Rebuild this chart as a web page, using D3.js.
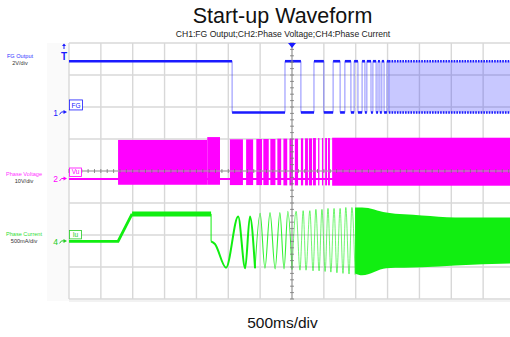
<!DOCTYPE html>
<html><head><meta charset="utf-8">
<script src="https://cdn.jsdelivr.net/npm/d3@7/dist/d3.min.js"></script>
<style>html,body{margin:0;padding:0;background:#fff;}svg{display:block;font-family:"Liberation Sans",Arial,sans-serif;}</style>
</head><body>
<script>
// ---------- text ----------
const titleText = "Start-up Waveform";
const subtitleText = "CH1:FG Output;CH2:Phase Voltage;CH4:Phase Current";
const timebaseText = "500ms/div";
const channelNames = ["FG Output", "Phase Voltage", "Phase Current"];
const channelScales = ["2V/div", "10V/div", "500mA/div"];
const channelNumbers = ["1", "2", "4"];
const channelTags = ["FG", "Vu", "Iu"];
const perDiv = [2, 10, 500];            // V, V, mA per division

// ---------- time axis (ms, trigger at 0) ----------
const timeDomain = [-3500, 3500];
const msPerDiv = 500;

// ---------- CH1 FG output (V) ----------
const fgHigh = 3.2, fgLow = 0;
const fgEdgesMs = [-940, -110, 140, 345, 500, 645, 755, 830, 925, 975, 1035, 1100,
                   1145, 1175, 1240, 1270, 1320, 1350, 1380, 1410, 1445, 1490];
const fgDenseStartMs = 1520;

// ---------- CH2 phase voltage bursts (V) ----------
const pvBurstStart = [-2730, -1330, -975, -720, -560, -450, -340, -230, -135, -40, 45, 140, 205, 265, 330, 410, 470, 520, 565, 630];
const pvBurstEnd   = [-1330, -1130, -770, -610, -470, -365, -260, -170, -75, 15, 95, 175, 250, 315, 375, 430, 490, 550, 595, 3500];
const pvBurstTop   = [12.2, 13.1, 12.4, 12.4, 12.5, 12.5, 12.5, 12.6, 12.6, 12.6, 12.6, 12.7, 12.7, 12.7, 12.8, 12.8, 12.8, 12.8, 12.8, 12.9];
const pvBurstBottom= [-1.8, -1.8, -1.9, -1.9, -1.9, -1.9, -1.9, -1.9, -2.0, -2.0, -2.0, -2.0, -2.0, -2.0, -2.0, -2.0, -2.0, -2.0, -2.0, -2.1];

// ---------- CH4 phase current (mA) ----------
const cuStepTimes  = [-3500, -2730, -2510, -1270];
const cuStepValues = [0, 0, 430, 430];
const cuOscTimes  = [-1270, -1210, -1035, -845, -735, -660, -580, -500, -425, -345, -265, -190, -125, -65, 0, 65, 125, 175,
                     220, 280, 330, 375, 425, 470, 520, 565, 610, 660, 705, 755, 800, 845, 895, 940, 990];
const cuOscValues = [0, -40, -410, 390, -420, 390, -420, 440, -420, 450, -430, 450, -430, 470, -440, 470, -450, 480,
                     -450, 480, -460, 500, -460, 500, -470, 515, -480, 515, -490, 515, -500, 530, -510, 530, -520];
const cuEnvTimes  = [990, 1100, 1480, 2040, 2560, 3500];
const cuEnvTop    = [530, 530, 450, 405, 375, 375];
const cuEnvBottom = [-500, -530, -420, -405, -375, -345];

// ---------- layout / style ----------
const W = 510, H = 337;
const plotL = 69, plotR = 515, plotT = 43, plotB = 299;
const chOffsetDiv = [1.83, -0.25, -2.2];
const colBlue = "#1a1aff", colPink = "#ff00ff", colGreen = "#11ee11";

const svg = d3.select("body").append("svg").attr("width", W).attr("height", H);
const x = d3.scaleLinear().domain(timeDomain).range([plotL, plotR]);
const yDiv = d3.scaleLinear().domain([-4, 4]).range([plotB, plotT]);
const chY = (ch, v) => yDiv(chOffsetDiv[ch] + v / perDiv[ch]);

// faint left panel
svg.append("rect").attr("x", 47).attr("y", plotT).attr("width", plotL - 47).attr("height", plotB - plotT + 2).attr("fill", "#fafafa");

// grid
const grid = svg.append("g");
const nDivX = (timeDomain[1] - timeDomain[0]) / msPerDiv;
for (let k = 0; k <= nDivX; k++) {
  const t = timeDomain[0] + k * msPerDiv;
  grid.append("line").attr("x1", x(t)).attr("x2", x(t)).attr("y1", plotT).attr("y2", plotB)
    .attr("stroke", "#d8d8d8").attr("stroke-width", 1.4);
}
for (let j = 0; j <= 8; j++) {
  grid.append("line").attr("x1", plotL).attr("x2", plotR).attr("y1", yDiv(-4 + j)).attr("y2", yDiv(-4 + j))
    .attr("stroke", "#d8d8d8").attr("stroke-width", 1.4);
}
grid.append("line").attr("x1", plotL).attr("x2", plotR).attr("y1", plotB + 2).attr("y2", plotB + 2)
  .attr("stroke", "#eeeeee").attr("stroke-width", 1.5);

// clip
svg.append("clipPath").attr("id", "clip").append("rect")
  .attr("x", plotL).attr("y", plotT - 2).attr("width", plotR - plotL).attr("height", plotB - plotT + 4);
const traces = svg.append("g").attr("clip-path", "url(#clip)");

// ---- CH2 phase voltage ----
traces.append("line").attr("x1", x(timeDomain[0])).attr("x2", x(timeDomain[1]))
  .attr("y1", chY(1, 0)).attr("y2", chY(1, 0)).attr("stroke", colPink).attr("stroke-width", 2.2);
pvBurstStart.forEach((s, i) => {
  traces.append("rect").attr("x", x(s)).attr("width", Math.max(0.8, x(pvBurstEnd[i]) - x(s)))
    .attr("y", chY(1, pvBurstTop[i])).attr("height", chY(1, pvBurstBottom[i]) - chY(1, pvBurstTop[i]))
    .attr("fill", colPink);
});

// ---- CH4 phase current ----
const stepLine = d3.line().x(d => x(d[0])).y(d => chY(2, d[1]));
const stepPts = cuStepTimes.map((t, i) => [t, cuStepValues[i]]);
traces.append("path").attr("d", stepLine(stepPts.slice(0, 3))).attr("fill", "none")
  .attr("stroke", colGreen).attr("stroke-width", 2.8);
traces.append("path").attr("d", stepLine(stepPts.slice(2))).attr("fill", "none")
  .attr("stroke", colGreen).attr("stroke-width", 5);
traces.append("line").attr("x1", x(cuStepTimes[3])).attr("x2", x(cuOscTimes[0]))
  .attr("y1", chY(2, cuStepValues[3])).attr("y2", chY(2, cuOscValues[0]))
  .attr("stroke", colGreen).attr("stroke-width", 1);
const oscPts = cuOscTimes.map((t, i) => [t, cuOscValues[i]]);
const oscLine = d3.line().x(d => x(d[0])).y(d => chY(2, d[1])).curve(d3.curveMonotoneX);
traces.append("path").attr("d", oscLine(oscPts.slice(0, 7)))
  .attr("fill", "none").attr("stroke", colGreen).attr("stroke-width", 2);
traces.append("path").attr("d", oscLine(oscPts.slice(6, 15)))
  .attr("fill", "none").attr("stroke", colGreen).attr("stroke-width", 1.1).attr("stroke-opacity", 0.85);
traces.append("path").attr("d", oscLine(oscPts.slice(14)))
  .attr("fill", "none").attr("stroke", colGreen).attr("stroke-width", 1).attr("stroke-opacity", 0.6);
const envPts = cuEnvTimes.map((t, i) => [t, cuEnvTop[i], cuEnvBottom[i]]);
traces.append("path").attr("d", d3.area().x(d => x(d[0])).y0(d => chY(2, d[2])).y1(d => chY(2, d[1])).curve(d3.curveMonotoneX)(envPts))
  .attr("fill", colGreen);

// ---- CH1 FG ----
const fgTimes = [timeDomain[0], ...fgEdgesMs, fgDenseStartMs];
for (let i = 0; i < fgTimes.length - 1; i++) {
  const lv = i % 2 === 0 ? fgHigh : fgLow;
  traces.append("line").attr("x1", x(fgTimes[i])).attr("x2", x(fgTimes[i + 1]))
    .attr("y1", chY(0, lv)).attr("y2", chY(0, lv)).attr("stroke", colBlue).attr("stroke-width", 2.6);
}
[...fgEdgesMs, fgDenseStartMs].forEach(t => {
  traces.append("line").attr("x1", x(t)).attr("x2", x(t)).attr("y1", chY(0, fgHigh)).attr("y2", chY(0, fgLow))
    .attr("stroke", colBlue).attr("stroke-opacity", 0.5).attr("stroke-width", 1);
});
traces.append("rect").attr("x", x(fgDenseStartMs)).attr("width", x(timeDomain[1]) - x(fgDenseStartMs))
  .attr("y", chY(0, fgHigh)).attr("height", chY(0, fgLow) - chY(0, fgHigh))
  .attr("fill", colBlue).attr("fill-opacity", 0.24);
[fgHigh, fgLow].forEach(lv => {
  traces.append("line").attr("x1", x(fgDenseStartMs)).attr("x2", x(timeDomain[1]))
    .attr("y1", chY(0, lv)).attr("y2", chY(0, lv)).attr("stroke", colBlue).attr("stroke-width", 2.4)
    .attr("stroke-dasharray", "1.6,1.1");
});

// center lines with minor ticks (drawn over traces)
const cx = x(0), cy = yDiv(0);
const cg = svg.append("g");
cg.append("line").attr("x1", cx).attr("x2", cx).attr("y1", plotT).attr("y2", plotB).attr("stroke", "#999").attr("stroke-width", 1);
cg.append("line").attr("x1", plotL).attr("x2", plotR).attr("y1", cy).attr("y2", cy).attr("stroke", "#aaa").attr("stroke-width", 1);
for (let v = -4; v <= 4.001; v += 0.2) {
  cg.append("line").attr("x1", cx - 2).attr("x2", cx + 2).attr("y1", yDiv(v)).attr("y2", yDiv(v)).attr("stroke", "#777").attr("stroke-width", 0.8);
}
for (let t = timeDomain[0]; t <= timeDomain[1]; t += msPerDiv / 5) {
  cg.append("line").attr("x1", x(t)).attr("x2", x(t)).attr("y1", cy - 2).attr("y2", cy + 2).attr("stroke", "#777").attr("stroke-width", 0.8);
}

// trigger markers
svg.append("path").attr("d", `M${cx - 4},${plotT} L${cx + 4},${plotT} L${cx},${plotT + 5} Z`).attr("fill", colBlue);
svg.append("text").attr("x", 64).attr("y", 59.5).attr("text-anchor", "middle").attr("font-size", 10).attr("font-weight", "bold")
  .attr("fill", colBlue).text("T");
svg.append("line").attr("x1", 64).attr("x2", 64).attr("y1", 44.5).attr("y2", 49).attr("stroke", colBlue).attr("stroke-width", 1);
svg.append("path").attr("d", "M62,46 L64,43.5 L66,46 Z").attr("fill", colBlue);

// channel markers, tags, left labels
const chColors = [colBlue, colPink, "#22cc22"];
const labelColors = ["#3333ff", "#ff33ff", "#33dd33"];
const labelX = [20, 24, 24];
const labelDy = [-54, -3, -5];
channelNumbers.forEach((n, i) => {
  const yy = chY(i, 0);
  svg.append("text").attr("x", 58).attr("y", yy + 3.2).attr("text-anchor", "end").attr("font-size", 8.5)
    .attr("fill", chColors[i]).text(n);
  svg.append("path").attr("d", `M59.5,${yy + 2} L61.5,${yy - 0.5} L64,${yy - 0.5}`).attr("fill", "none")
    .attr("stroke", chColors[i]).attr("stroke-width", 1);
  svg.append("path").attr("d", `M63.5,${yy - 2.5} L67,${yy - 0.5} L63.5,${yy + 1.5} Z`).attr("fill", chColors[i]);
  // tag box
  const bw = i === 0 ? 13 : 12, bh = i === 0 ? 10 : 8.5;
  const by = yy - (i === 0 ? 12.5 : 11);
  svg.append("rect").attr("x", plotL + 0.5).attr("y", by).attr("width", bw).attr("height", bh)
    .attr("fill", "#fff").attr("stroke", chColors[i]).attr("stroke-width", 0.8);
  svg.append("text").attr("x", plotL + 0.5 + bw / 2).attr("y", by + bh - 2.2).attr("text-anchor", "middle")
    .attr("font-size", 6.5).attr("fill", chColors[i]).text(channelTags[i]);
  // left labels
  svg.append("text").attr("x", labelX[i]).attr("y", yy + labelDy[i]).attr("text-anchor", "middle")
    .attr("font-size", 5.6).attr("fill", labelColors[i]).text(channelNames[i]);
  svg.append("text").attr("x", labelX[i]).attr("y", yy + labelDy[i] + 6.5).attr("text-anchor", "middle")
    .attr("font-size", 5.6).attr("fill", "#333").text(channelScales[i]);
});

// titles
svg.append("text").attr("x", 282.5).attr("y", 23).attr("text-anchor", "middle").attr("font-size", 21.5).attr("fill", "#111").text(titleText);
svg.append("text").attr("x", 283).attr("y", 36.5).attr("text-anchor", "middle").attr("font-size", 8.6).attr("fill", "#222").text(subtitleText);
svg.append("text").attr("x", 282.5).attr("y", 328).attr("text-anchor", "middle").attr("font-size", 15.5).attr("fill", "#111").text(timebaseText);
</script>
</body></html>
